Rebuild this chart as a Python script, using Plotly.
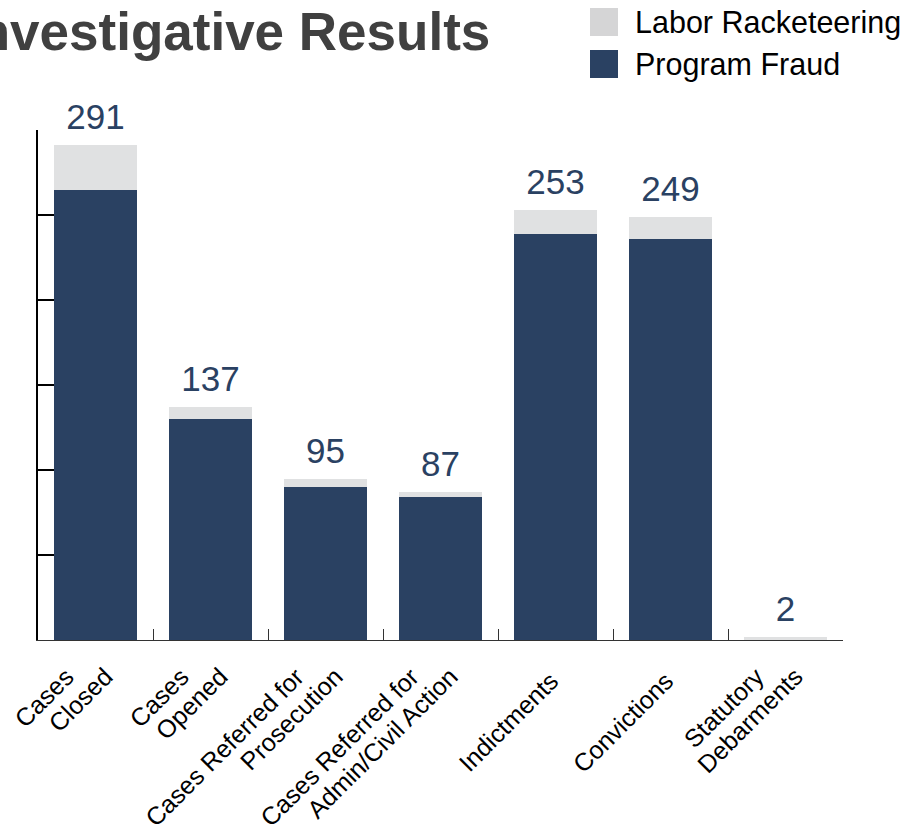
import plotly.graph_objects as go

categories = ["Cases Closed", "Cases Opened", "Cases Referred for Prosecution",
              "Cases Referred for Admin/Civil Action", "Indictments", "Convictions",
              "Statutory Debarments"]
# tick label lines (first line, second line)
label_lines = [("Cases", "Closed"), ("Cases", "Opened"), ("Cases Referred for", "Prosecution"),
               ("Cases Referred for", "Admin/Civil Action"), ("Indictments", None),
               ("Convictions", None), ("Statutory", "Debarments")]
program_fraud = [265, 130, 90, 84, 239, 236, 0]
labor_racketeering = [26, 7, 5, 3, 14, 13, 2]
totals = [291, 137, 95, 87, 253, 249, 2]
y_ticks = [0, 50, 100, 150, 200, 250, 300]

NAVY = "#2a4162"
GRAY = "#e0e1e2"
GRAY_LEG = "#d5d5d6"
FONT = "Liberation Sans, Arial, sans-serif"
NB = "\u00a0"
LBL = 25  # visible label size; the tick font itself is smaller to tighten line spacing

def span(t):
    return "<span style='font-size:%dpx'>%s</span>" % (LBL, t)

multi_text, single_text = [], []
for a, b in label_lines:
    if b is None:
        multi_text.append("")
        single_text.append(span(a))
    else:
        multi_text.append(span(a + NB * 4) + "<br>" + span(b))
        single_text.append("")

W, H = 912, 831
ML, MR, MT, MB = 38, 69, 130, 191
PW, PH = W - ML - MR, H - MT - MB

def px(x):
    return (x - ML) / PW

def py(y):
    return (H - MB - y) / PH

fig = go.Figure()
fig.add_trace(go.Bar(x=categories, y=program_fraud, name="Program Fraud",
                     marker=dict(color=NAVY, line=dict(width=0))))
fig.add_trace(go.Bar(x=categories, y=labor_racketeering, name="Labor Racketeering",
                     marker=dict(color=GRAY, line=dict(width=0))))
fig.add_trace(go.Scatter(x=categories, y=totals, xaxis="x2", mode="markers+text",
                         text=[str(t) for t in totals],
                         textposition="top center", cliponaxis=False,
                         marker=dict(size=10, color="rgba(0,0,0,0)"),
                         textfont=dict(size=35, color=NAVY, family=FONT),
                         showlegend=False, hoverinfo="skip"))

# legend drawn manually (large swatches)
legend_items = [("Labor Racketeering", GRAY_LEG, 22), ("Program Fraud", NAVY, 64)]
shapes = []
annotations = []
for name, col, cy in legend_items:
    shapes.append(dict(type="rect", xref="paper", yref="paper",
                       x0=px(590), x1=px(618), y0=py(cy + 14), y1=py(cy - 14),
                       fillcolor=col, line=dict(width=0)))
    annotations.append(dict(text=name, xref="paper", yref="paper", x=px(633), y=py(cy),
                            xanchor="left", yanchor="middle", showarrow=False,
                            font=dict(size=30.5, color="black", family=FONT)))

annotations.append(dict(text="<b>Investigative Results</b>", xref="paper", yref="paper",
                        x=px(492), y=py(31), xanchor="right", yanchor="middle",
                        showarrow=False, font=dict(size=53, color="#404040", family=FONT)))

tickfont = dict(size=21, color="black", family=FONT)

fig.update_layout(
    width=W, height=H,
    margin=dict(l=ML, r=MR, t=MT, b=MB, pad=0, autoexpand=False),
    paper_bgcolor="white", plot_bgcolor="white",
    barmode="stack", bargap=0.28,
    showlegend=False,
    font=dict(family=FONT, color="black"),
    shapes=shapes, annotations=annotations,
    xaxis=dict(type="category", tickson="boundaries", ticks="inside", ticklen=11,
               tickcolor="#333", tickwidth=1, showline=True, linecolor="#333", linewidth=1,
               tickmode="array", tickvals=categories, ticktext=multi_text,
               tickangle=-45, tickfont=tickfont,
               ticklabelstandoff=-4, ticklabelshift=-8, automargin=False,
               showgrid=False, layer="below traces"),
    xaxis2=dict(type="category", overlaying="x", matches="x", anchor="y", side="bottom",
                showline=False, ticks="", showgrid=False, zeroline=False,
                tickmode="array", tickvals=categories, ticktext=single_text,
                tickangle=-45, tickfont=tickfont,
                ticklabelstandoff=24, ticklabelshift=-3, automargin=False),
    yaxis=dict(range=[0, 300], tickvals=y_ticks, showticklabels=False, ticks="inside",
               ticklen=19, tickwidth=2, tickcolor="black", showline=True, linecolor="black",
               linewidth=2, showgrid=False, zeroline=False, layer="below traces",
               automargin=False),
)

fig.write_html("out.html")
